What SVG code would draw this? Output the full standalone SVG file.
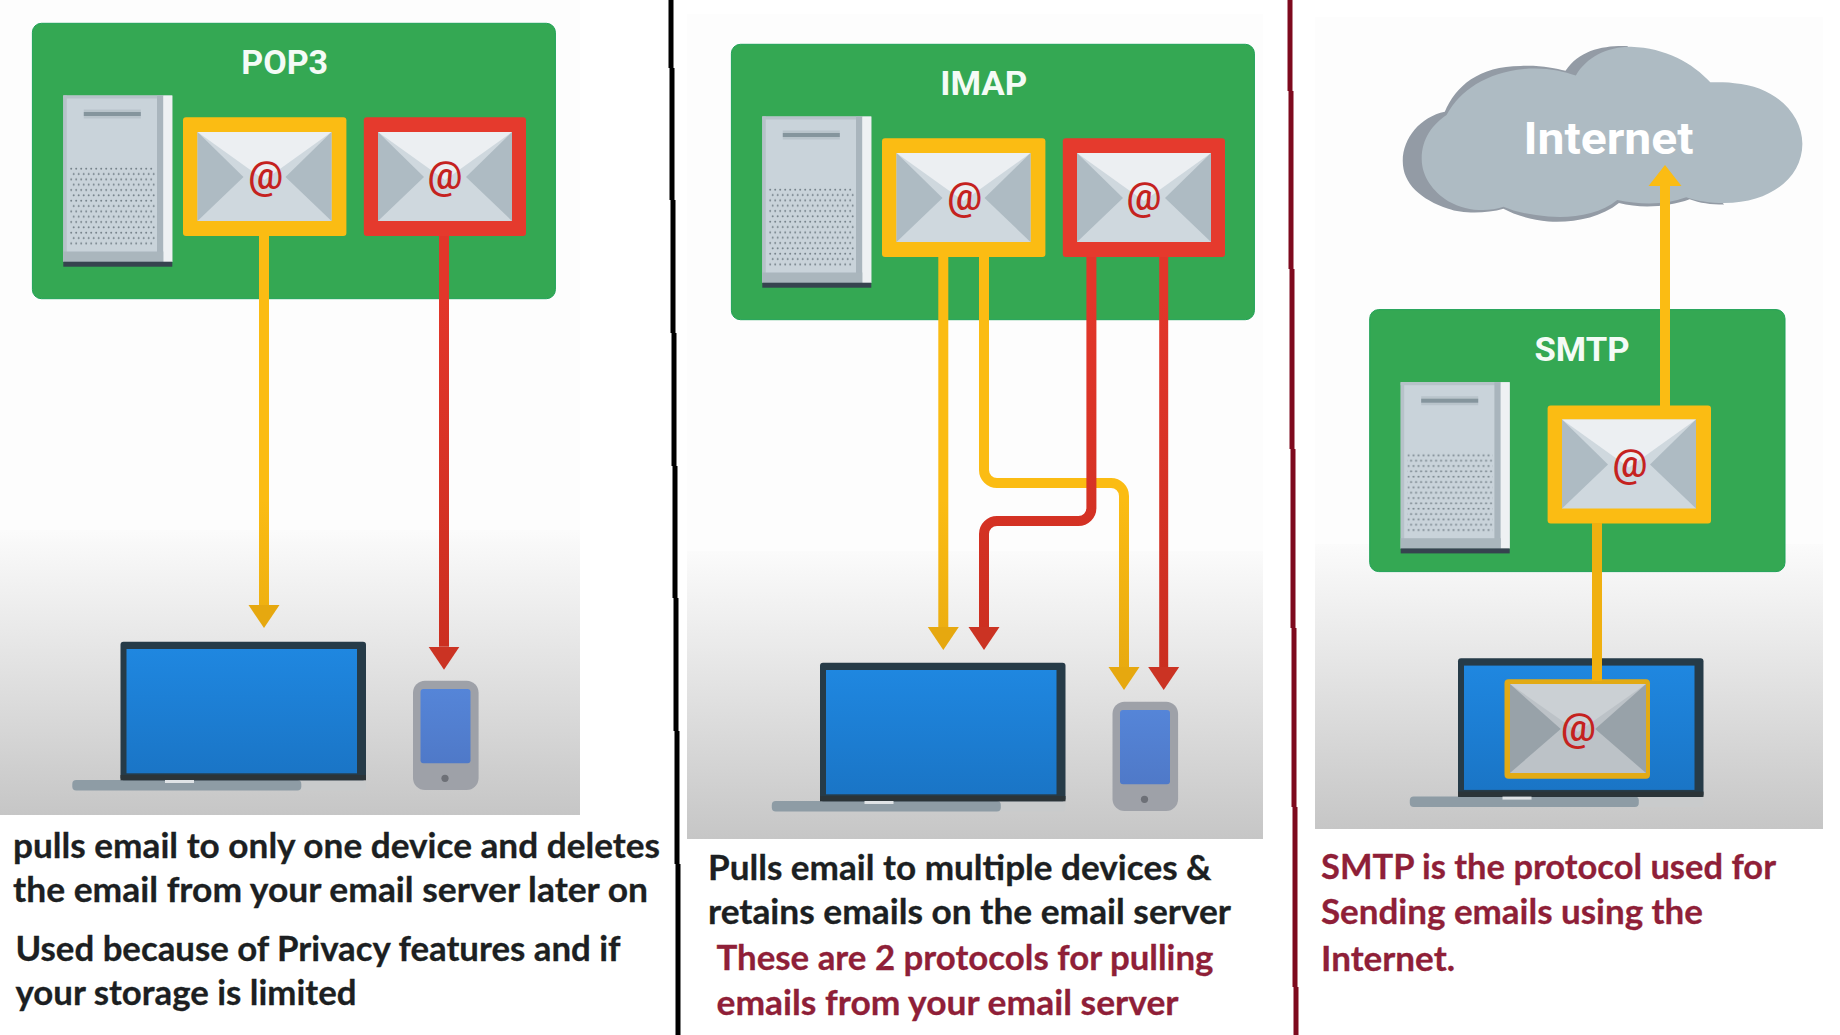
<svg xmlns="http://www.w3.org/2000/svg" xmlns:xlink="http://www.w3.org/1999/xlink" width="1840" height="1035" viewBox="0 0 1840 1035">
<style>
.title{font-family:Roboto,"Liberation Sans",Arial,sans-serif;font-weight:700;fill:#f4fbf6;text-anchor:middle}
.at{font-family:Roboto,"Liberation Sans",sans-serif;font-size:39px;font-weight:500;fill:#c5221f;text-anchor:middle}
.cap{font-family:Lato,"Open Sans",sans-serif;font-weight:700;font-size:35px;stroke-width:.3px}
.blk{fill:#1c1f22;stroke:#1c1f22}.mar{fill:#8f1f38;stroke:#8f1f38}
.green{fill:#34a853;stroke:#1fa257;stroke-width:1}
.yl{fill:none;stroke:url(#yg);stroke-width:10}
.rd{fill:none;stroke:url(#rg);stroke-width:10}
</style>
<defs>
<linearGradient id="bg" x1="0" y1="0" x2="0" y2="1"><stop offset="0" stop-color="#fbfbfb"/><stop offset=".35" stop-color="#e9e9e9"/><stop offset="1" stop-color="#c6c6c6"/></linearGradient>
<linearGradient id="blue" x1="0" y1="0" x2="0" y2="1"><stop offset="0" stop-color="#1f87e0"/><stop offset="1" stop-color="#1a75c6"/></linearGradient>
<linearGradient id="phs" x1="0" y1="0" x2="0" y2="1"><stop offset="0" stop-color="#5585d8"/><stop offset="1" stop-color="#4f79c8"/></linearGradient>
<linearGradient id="yg" gradientUnits="userSpaceOnUse" x1="0" y1="500" x2="0" y2="690"><stop offset="0" stop-color="#fbbc13"/><stop offset="1" stop-color="#e6a80f"/></linearGradient>
<linearGradient id="rg" gradientUnits="userSpaceOnUse" x1="0" y1="300" x2="0" y2="690"><stop offset="0" stop-color="#e2362a"/><stop offset="1" stop-color="#c92e1f"/></linearGradient>
<pattern id="dots" patternUnits="userSpaceOnUse" x="70" y="166" width="5" height="10.67"><circle cx="1.2" cy="2.67" r="1" fill="#75828a"/><circle cx="3.7" cy="8" r="1" fill="#75828a"/></pattern>
<marker id="ya" markerUnits="userSpaceOnUse" markerWidth="24" markerHeight="32" refX="0" refY="16" orient="auto"><path d="M0,.5 L23,16 L0,31.5 z" fill="#e6a80f"/></marker>
<marker id="yu" markerUnits="userSpaceOnUse" markerWidth="24" markerHeight="34" refX="0" refY="17" orient="auto"><path d="M0,.5 L21,17 L0,33.5 z" fill="#fbbc13"/></marker>
<marker id="ra" markerUnits="userSpaceOnUse" markerWidth="24" markerHeight="32" refX="0" refY="16" orient="auto"><path d="M0,.5 L23,16 L0,31.5 z" fill="#cb3323"/></marker>
<g id="server">
<rect x="63.3" y="95.5" width="109" height="166.5" fill="#c9d3da"/>
<rect x="63.3" y="95.5" width="3.5" height="166.5" fill="#b7c2c9"/>
<rect x="63.3" y="95.5" width="100" height="3" fill="#b7c2c9"/>
<rect x="157" y="95.5" width="6.3" height="166.5" fill="#a9b5bd"/>
<rect x="163.3" y="95.5" width="9" height="166.5" fill="#eef1f3"/>
<rect x="63.3" y="251.5" width="100" height="10.5" fill="#aab6bd"/>
<rect x="63.3" y="261.7" width="109" height="5" fill="#36434f"/>
<rect x="83.8" y="109.5" width="57" height="9" fill="#b9c4cb"/>
<rect x="83.8" y="112" width="57" height="4" fill="#85959d"/>
<rect x="70" y="166" width="85" height="81" fill="url(#dots)"/>
</g>
<g id="paper">
<rect width="134" height="89" fill="#cfd8de"/>
<path d="M0,0H134L67,48z" fill="#eceff2"/>
<path d="M0,0L46,45L0,89z" fill="#aebbc3"/>
<path d="M134,0L88,45L134,89z" fill="#aebbc3"/>
</g>
<g id="laptop">
<rect x="72.3" y="780" width="293.7" height="10.5" rx="3" fill="#c9cbcc"/>
<rect x="72.3" y="780" width="229" height="10.5" rx="4" fill="#8e9ca5"/>
<rect x="120.5" y="641.7" width="245.5" height="138.6" rx="3" fill="#263b48"/>
<rect x="120.5" y="775" width="245.5" height="5.3" fill="#2b3438"/>
<rect x="126.5" y="649" width="230.5" height="124.3" fill="url(#blue)"/>
<rect x="165" y="780" width="29" height="3" fill="#dfe3e6"/>
</g>
<g id="phone">
<rect x="413" y="680.7" width="65.6" height="109.3" rx="12" fill="#9ea1a8"/>
<rect x="420.5" y="689" width="50" height="74.3" rx="3" fill="url(#phs)"/>
<circle cx="445" cy="778.3" r="3.6" fill="#6d7077"/>
</g>
</defs>

<rect width="1840" height="1035" fill="#fff"/>
<g id="backgrounds">
<rect x="0" y="0" width="580" height="530" fill="#fdfdfd"/><rect x="0" y="530" width="580" height="285" fill="url(#bg)"/>
<rect x="687" y="14" width="576" height="537" fill="#fdfdfd"/><rect x="687" y="551" width="576" height="288" fill="url(#bg)"/>
<rect x="1315" y="17" width="508" height="527" fill="#fdfdfd"/><rect x="1315" y="544" width="508" height="285" fill="url(#bg)"/>
</g>
<g id="dividers">
<path d="M668.5,0h5v68h1v132h1v133h1v133h1v132h1v133h1v133h1v171h-5v-171h-1v-133h-1v-133h-1v-132h-1v-133h-1v-133h-1v-132h-1z" fill="#000"/>
<path d="M1287.5,0h5v91h1v178h1v180h1v179h1v179h1v180h1v48h-5v-48h-1v-180h-1v-179h-1v-179h-1v-180h-1v-178h-1z" fill="#7e0a1e"/>
</g>

<g id="pop3">
<rect class="green" x="32.4" y="23.3" width="523" height="275.4" rx="9"/>
<text class="title" x="284.7" y="74" font-size="33" textLength="87" lengthAdjust="spacingAndGlyphs">POP3</text>
<use xlink:href="#server" href="#server"/>
</g>
<g id="pop3-mail-yellow"><rect x="183" y="117.3" width="163.4" height="118.7" rx="3" fill="#fbbc13"/><use href="#paper" xlink:href="#paper" transform="translate(197.5 132)"/><text class="at" x="265.7" y="189">@</text></g>
<g id="pop3-mail-red"><rect x="363.8" y="117.3" width="162.2" height="118.7" rx="3" fill="#e53a2d"/><use href="#paper" xlink:href="#paper" transform="translate(378 132)"/><text class="at" x="445" y="189">@</text></g>
<g id="pop3-laptop"><use href="#laptop" xlink:href="#laptop"/></g>
<g id="pop3-phone"><use href="#phone" xlink:href="#phone"/></g>

<g id="imap">
<rect class="green" x="731.4" y="44.3" width="523" height="275.4" rx="9"/>
<text class="title" x="983.7" y="95" font-size="33" textLength="87" lengthAdjust="spacingAndGlyphs">IMAP</text>
<use href="#server" xlink:href="#server" transform="translate(699 21)"/>
</g>
<g id="imap-mail-yellow"><rect x="882" y="138.3" width="163.4" height="118.7" rx="3" fill="#fbbc13"/><use href="#paper" xlink:href="#paper" transform="translate(896.5 153)"/><text class="at" x="964.7" y="210">@</text></g>
<g id="imap-mail-red"><rect x="1062.8" y="138.3" width="162.2" height="118.7" rx="3" fill="#e53a2d"/><use href="#paper" xlink:href="#paper" transform="translate(1077 153)"/><text class="at" x="1144" y="210">@</text></g>
<g id="imap-laptop"><use href="#laptop" xlink:href="#laptop" transform="translate(699.5 21)"/></g>
<g id="imap-phone"><use href="#phone" xlink:href="#phone" transform="translate(699.5 21)"/></g>

<g id="internet">
<g transform="translate(1300 0) scale(.3448 .3831)">
<path fill="#939ba5" d="M298,420C298,360 350,305 420,292C450,225 520,172 640,172C700,170 740,178 770,185C810,130 880,118 950,120L1000,300L1230,534C1190,534 1160,530 1130,520C1070,540 990,545 925,530C870,570 790,582 720,578C670,574 620,560 590,545C540,558 470,558 430,545C350,520 298,480 298,420Z"/>
<path fill="#aebbc3" d="M425,300C465,235 540,190 650,180C710,175 760,185 800,197C830,150 890,122 960,122C1060,125 1140,165 1190,215C1215,215 1240,215 1260,217C1380,225 1457,300 1457,375C1457,460 1370,530 1230,530C1190,530 1150,525 1120,515C1060,535 990,535 920,522C870,560 790,570 720,565C670,562 620,552 590,540C540,555 480,550 430,525C385,500 353,460 353,415C353,360 385,325 425,300Z"/>
</g>
<text class="title" x="1608.5" y="154.4" font-size="44" textLength="170" lengthAdjust="spacingAndGlyphs" style="fill:#fff">Internet</text>
</g>
<g id="smtp">
<rect class="green" x="1369.7" y="309.6" width="415.3" height="262" rx="9"/>
<text class="title" x="1582" y="361" font-size="34" textLength="95" lengthAdjust="spacingAndGlyphs">SMTP</text>
<use href="#server" xlink:href="#server" transform="translate(1337.4 286.7)"/>
</g>
<g id="smtp-mail"><rect x="1547.6" y="405.4" width="163.4" height="118" rx="3" fill="#fbbc13"/><use href="#paper" xlink:href="#paper" transform="translate(1562 419.5)"/><text class="at" x="1630" y="477">@</text></g>
<g id="smtp-laptop"><use href="#laptop" xlink:href="#laptop" transform="translate(1337.5 16.6)"/></g>
<g id="laptop-mail"><rect x="1504.5" y="679.3" width="145.5" height="99.4" rx="4" fill="#e2aa14"/>
<g transform="translate(1510 684) scale(1.015 1.0)"><rect width="134" height="89" fill="#bcc2c7"/><path d="M0,0H134L67,48z" fill="#cbd0d4"/><path d="M0,0L50,45L0,89z" fill="#98a2a9"/><path d="M134,0L84,45L134,89z" fill="#98a2a9"/></g>
<text class="at" x="1578.6" y="741">@</text></g>

<g id="connectors">
<path class="yl" d="M264,236V605" marker-end="url(#ya)"/>
<path class="rd" d="M444,236V646.7" marker-end="url(#ra)"/>
<path class="yl" d="M943.3,257V627" marker-end="url(#ya)"/>
<path class="yl" d="M984,257V470a13,13 0 0 0 13,13H1111a13,13 0 0 1 13,13V667" marker-end="url(#ya)"/>
<path class="rd" d="M1091.4,257V508a13,13 0 0 1 -13,13H997a13,13 0 0 0 -13,13V627" marker-end="url(#ra)"/>
<path class="rd" style="stroke-width:9" d="M1163.7,257V667" marker-end="url(#ra)"/>
<path d="M1665,406V186" fill="none" stroke="#fbbc13" stroke-width="10" marker-end="url(#yu)"/>
<path d="M1597,523V681" fill="none" stroke="#f0b010" stroke-width="10"/>
</g>

<g id="captions">
<text class="cap blk" x="13" y="857.5" textLength="647" lengthAdjust="spacingAndGlyphs">pulls email to only one device and deletes</text>
<text class="cap blk" x="13" y="902" textLength="635" lengthAdjust="spacingAndGlyphs">the email from your email server later on</text>
<text class="cap blk" x="15.5" y="960.8" textLength="605" lengthAdjust="spacingAndGlyphs">Used because of Privacy features and if</text>
<text class="cap blk" x="15.5" y="1005.3" textLength="341" lengthAdjust="spacingAndGlyphs">your storage is limited</text>
<text class="cap blk" x="708" y="879.8" textLength="503.5" lengthAdjust="spacingAndGlyphs">Pulls email to multiple devices &amp;</text>
<text class="cap blk" x="708" y="924" textLength="523" lengthAdjust="spacingAndGlyphs">retains emails on the email server</text>
<text class="cap mar" x="716.5" y="969.8" textLength="497" lengthAdjust="spacingAndGlyphs">These are 2 protocols for pulling</text>
<text class="cap mar" x="716.5" y="1015" textLength="462" lengthAdjust="spacingAndGlyphs">emails from your email server</text>
<text class="cap mar" x="1321" y="879" textLength="455" lengthAdjust="spacingAndGlyphs">SMTP is the protocol used for</text>
<text class="cap mar" x="1321" y="924" textLength="382" lengthAdjust="spacingAndGlyphs">Sending emails using the</text>
<text class="cap mar" x="1321" y="970.5" textLength="134" lengthAdjust="spacingAndGlyphs">Internet.</text>
</g>
</svg>
